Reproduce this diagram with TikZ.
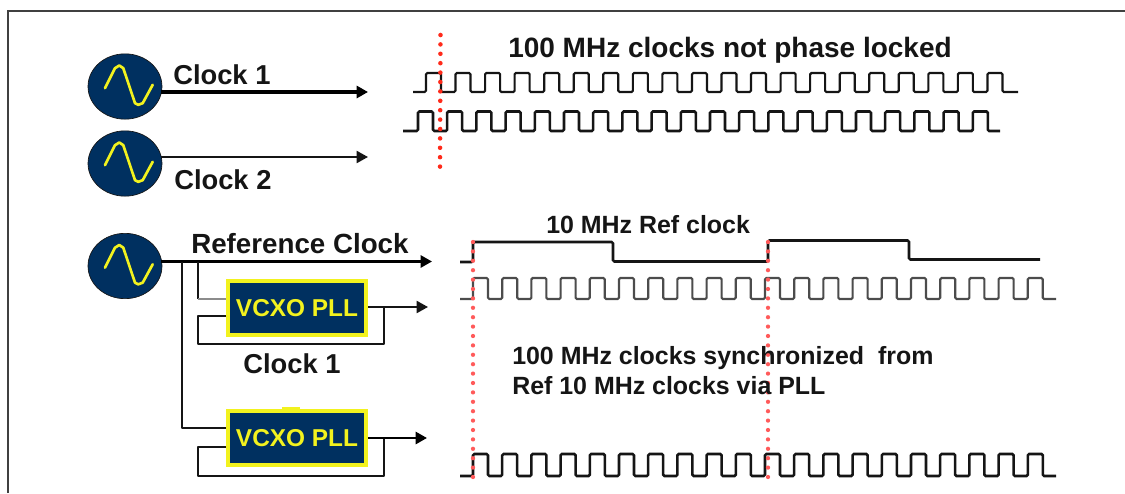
\documentclass[tikz,border=0pt]{standalone}
\usepackage{fontspec}
\setmainfont{Liberation Sans}
\usetikzlibrary{arrows.meta,shapes.geometric}
\definecolor{navy}{HTML}{003060}
\definecolor{ylw}{HTML}{F2F21E}
\definecolor{ink}{HTML}{151515}
\definecolor{dotred}{HTML}{FF2A1A}
\definecolor{dotpink}{HTML}{FF5A5A}
\tikzset{
  osc/.style={ellipse,fill=navy,draw=ink,line width=.5pt,inner sep=0pt,minimum width=55.5pt,minimum height=49pt},
  pll/.style={rectangle,fill=navy,draw=ylw,line width=3pt,inner sep=0pt,minimum width=103.5pt,minimum height=40.5pt,
    text=ylw,font=\fontsize{18.3}{22}\selectfont\bfseries},
  lbl/.style={text=ink,inner sep=0pt,anchor=west,font=\fontsize{20.5}{24}\selectfont\bfseries},
  lblb/.style={lbl,font=\fontsize{18.7}{24}\selectfont\bfseries},
  lblc/.style={lbl,font=\fontsize{18.7}{24}\selectfont\bfseries},
  sinew/.style={draw=ylw,line width=2pt,line join=round,line cap=round},
  conn/.style={draw=ink,line width=1.5pt,line join=round},
  connthick/.style={draw=black,line width=2.3pt},
  arrowed/.style={-{Triangle[length=8.5pt,width=9pt]}},
  wave/.style={draw=ink,line width=1.6pt,rounded corners=1pt},
  wavegrey/.style={draw=black!70,line width=1.6pt,rounded corners=1pt},
  dots/.style={draw=dotred,line width=3.4pt,line cap=round,dash pattern=on 0pt off 7.05pt},
  dotsb/.style={draw=dotpink,line width=3.2pt,line cap=round,dash pattern=on 0pt off 7.05pt},
}
\newcommand{\sinecurve}[1]{\draw[sinew,shift={(#1)}] (-20,1.7) -- (-10,-18.3) -- (-5.7,-21) -- (-1.7,-18.3) -- (10,16.7) -- (13.3,18.3) -- (17.7,16.7) -- (27.7,-1.7);}
\begin{document}
\begin{tikzpicture}[x=0.75pt,y=-0.75pt]
\useasboundingbox (0,0) rectangle (1125,493);
% frame
\draw[draw=black!75,line width=1.4pt] (8,493) -- (8,11) -- (1125,11);

% oscillators
\node[osc] (osc1) at (125,86.5) {};
\node[osc] (osc2) at (125,163.5) {};
\node[osc] (osc3) at (125,266) {};
\sinecurve{osc1.center}
\sinecurve{osc2.center}
\sinecurve{osc3.center}

% PLL boxes
\node[pll] (pll1) at (297,308) {VCXO PLL};
\fill[ylw] (282,409) rectangle (300,407);
\node[pll] (pll2) at (297,438) {VCXO PLL};

% connector ends
\coordinate (c1end) at (368,92);
\coordinate (c2end) at (368,157);
\coordinate (refend) at (432,261.5);
\coordinate (b1) at (198,261.5);
\coordinate (b2) at (182,261.5);
\coordinate (p1in) at (226,299);
\coordinate (p1fb) at (226,316);
\coordinate (p1tap) at (384,307);
\coordinate (p1end) at (428,307);
\coordinate (p2in) at (226,428);
\coordinate (p2fb) at (226,447);
\coordinate (p2tap) at (384,438);
\coordinate (p2end) at (427,438);

\draw[connthick,arrowed] ([xshift=-1pt]osc1.east |- c1end) -- (c1end);
\draw[conn,arrowed] ([xshift=-1pt]osc2.east |- c2end) -- (c2end);
\draw[connthick,line width=2pt,arrowed] ([xshift=-1pt]osc3.east |- refend) -- (refend);
\draw[conn] (b1) -- (b1 |- p1in);
\draw[draw=black!45,line width=1.2pt] (b1 |- p1in) -- (p1in);
\draw[conn] (b2) |- (p2in);
\draw[conn] (p1fb) -| (198,344) -| (p1tap);
\draw[conn,arrowed] (pll1.east |- p1tap) -- (p1end);
\draw[conn] (p2fb) -| (198,476) -| (p2tap);
\draw[connthick,line width=2pt,arrowed] (pll2.east |- p2tap) -- (p2end);

% clock waveforms
\draw[wave] (413,92) \foreach \k in {0,...,19} { -- ({426+29.55*\k},92) -- ({426+29.55*\k},73) -- ({441+29.55*\k},73) -- ({441+29.55*\k},92) } -- (1018,92);
\draw[wave,line width=1.9pt] (403,131) \foreach \k in {0,...,19} { -- ({418+29.2*\k},131) -- ({418+29.2*\k},111.5) -- ({433+29.2*\k},111.5) -- ({433+29.2*\k},131) } -- (1000,131);
% reference waveform
\draw[wave,line width=1.9pt] (460,262) -- (473,262) -- (473,242) -- (613,242) -- (613,261.5) -- (768,261.5) -- (768,240.5) -- (909,240.5) -- (909,259.5) -- (1040,259.5);
\draw[wavegrey] (460,299) \foreach \k in {0,...,19} { -- ({473+29.2*\k},299) -- ({473+29.2*\k},278) -- ({488+29.2*\k},278) -- ({488+29.2*\k},299) } -- (1056,299);
\draw[wave,line width=1.9pt] (460,476) \foreach \k in {0,...,19} { -- ({473+29.2*\k},476) -- ({473+29.2*\k},454) -- ({488+29.2*\k},454) -- ({488+29.2*\k},476) } -- (1056,476);

% dotted markers
\coordinate (d1a) at (440.5,35);
\coordinate (d1b) at (440,168);
\coordinate (d2a) at (473,242);
\coordinate (d2b) at (473,478);
\coordinate (d3a) at (768,242);
\coordinate (d3b) at (768,478);
\draw[dots] (d1a) -- (d1b);
\draw[dotsb] (d2a) -- (d2b);
\draw[dotsb] (d3a) -- (d3b);

% labels
\node[lbl] (t1) at (173,75) {Clock 1};
\node[lbl] (t2) at (174,180) {Clock 2};
\node[lbl,font=\fontsize{21}{24}\selectfont\bfseries] (t3) at (508,50) {100 MHz clocks not phase locked};
\node[lbl,font=\fontsize{20.8}{24}\selectfont\bfseries] (t4) at (191,244) {Reference Clock};
\node[lblc] (t5) at (546,225) {10 MHz Ref clock};
\node[lbl] (t6) at (243,364) {Clock 1};
\node[lblb] (t7) at (512,358) {100 MHz clocks synchronized\ \ from};
\node[lblb] (t8) at (512,386) {Ref 10 MHz clocks via PLL};
\end{tikzpicture}
\end{document}
